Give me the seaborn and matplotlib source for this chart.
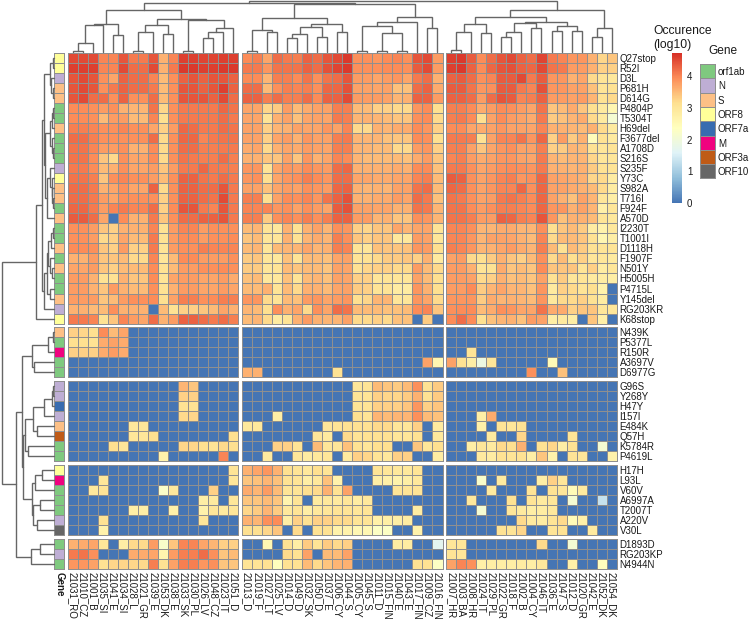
import numpy as np
import pandas as pd
import matplotlib
matplotlib.use("Agg")
import matplotlib.pyplot as plt
from matplotlib.colors import ListedColormap
import seaborn as sns

samples_left = ["21031_RO", "21010_CZ", "21001_B", "21035_SI", "21041_E", "21034_SI", "21028_L", "21021_GR",
                "21039_E", "21053_DK", "21038_E", "21033_SK", "21030_PL", "21026_LV", "21048_CZ", "21023_IT", "21051_D"]
samples_mid = ["21013_D", "21019_F", "21027_LT", "21025_LV", "21014_D", "21049_D", "21032_SK", "21050_D", "21037_E",
               "21006_CY", "21044_S", "21005_CY", "21045_S", "21011_D", "21015_FIN", "21040_E", "21043_E",
               "21017_FIN", "21009_CZ", "21016_FIN"]
samples_right = ["21007_HR", "21003_BA", "21008_HR", "21024_IT", "21029_PL", "21022_GR", "21018_F", "21002_B",
                 "21004_CY", "21046_IT", "21036_E", "21047_S", "21012_D", "21020_GR", "21042_E", "21052_DK", "21054_DK"]

mutations = ["Q27stop", "R52I", "D3L", "P681H", "D614G", "P4804P", "T5304T", "H69del", "F3677del", "A1708D",
             "S216S", "S235F", "Y73C", "S982A", "T716I", "F924F", "A570D", "I2230T", "T1001I", "D1118H",
             "F1907F", "N501Y", "H5005H", "P4715L", "Y145del", "RG203KR", "K68stop",
             "N439K", "P5377L", "R150R", "A3697V", "D6977G",
             "G96S", "Y268Y", "H47Y", "I157I", "E484K", "Q57H", "K5784R", "P4619L",
             "H17H", "L93L", "V60V", "A6997A", "T2007T", "A220V", "V30L",
             "D1893D", "RG203KP", "N4944N"]
block_sizes = [27, 5, 8, 7, 3]

gene_names = ["orf1ab", "N", "S", "ORF8", "ORF7a", "M", "ORF3a", "ORF10"]
gene_colors = ["#7FC97F", "#BEAED4", "#FDC086", "#FFFF99", "#386CB0", "#F0027F", "#BF5B17", "#666666"]
mutation_genes = ["ORF8", "ORF8", "N", "S", "S", "orf1ab", "orf1ab", "S", "orf1ab", "orf1ab",
                  "orf1ab", "N", "ORF8", "S", "S", "orf1ab", "S", "orf1ab", "orf1ab", "S",
                  "orf1ab", "S", "orf1ab", "orf1ab", "S", "N", "ORF8",
                  "S", "orf1ab", "M", "orf1ab", "orf1ab",
                  "N", "N", "ORF7a", "N", "S", "ORF3a", "orf1ab", "orf1ab",
                  "ORF8", "M", "orf1ab", "orf1ab", "orf1ab", "N", "ORF10",
                  "orf1ab", "N", "orf1ab"]

# log10 occurrence, one inner list per mutation
values_left = [
    [4.5, 4.5, 4.5, 4.0, 4.0, 4.4, 4.1, 4.1, 4.4, 3.6, 4.0, 4.6, 4.6, 4.55, 4.55, 4.6, 4.6],
    [4.6, 4.6, 4.6, 4.0, 4.0, 4.5, 4.2, 4.2, 4.5, 3.6, 4.1, 4.65, 4.65, 4.6, 4.6, 4.65, 4.65],
    [4.4, 4.5, 4.4, 3.9, 3.7, 4.3, 4.2, 4.2, 4.0, 3.5, 3.9, 4.3, 4.4, 4.3, 4.4, 4.4, 4.3],
    [4.4, 4.5, 4.4, 3.9, 4.1, 4.3, 4.2, 4.2, 4.1, 3.5, 3.9, 4.4, 4.4, 4.3, 4.4, 4.6, 4.3],
    [4.4, 4.5, 4.2, 4.2, 3.9, 4.3, 3.9, 3.9, 4.2, 3.5, 3.9, 4.4, 4.4, 4.4, 4.3, 4.5, 4.2],
    [3.95, 3.95, 3.9, 3.8, 3.9, 3.6, 3.55, 3.55, 4.15, 3.25, 3.9, 4.1, 4.1, 4.1, 4.1, 4.25, 4.15],
    [3.95, 3.95, 3.9, 3.5, 3.8, 3.8, 3.5, 3.5, 4.0, 3.15, 3.9, 4.1, 4.1, 4.1, 4.1, 4.2, 4.1],
    [4.05, 4.05, 4.0, 3.9, 3.9, 4.0, 3.9, 3.9, 3.7, 3.3, 3.8, 4.25, 4.2, 4.1, 4.1, 4.2, 4.15],
    [4.2, 4.2, 4.05, 3.9, 3.9, 3.9, 3.9, 3.9, 4.2, 3.2, 3.9, 4.25, 4.25, 4.0, 4.1, 4.15, 4.15],
    [4.15, 4.15, 4.0, 3.8, 3.8, 3.9, 3.6, 3.6, 3.95, 3.2, 3.9, 4.2, 4.2, 4.05, 4.05, 4.1, 4.1],
    [4.15, 4.15, 3.95, 3.4, 3.2, 3.9, 3.7, 3.7, 3.95, 3.2, 3.9, 4.15, 4.1, 4.05, 4.05, 4.2, 4.05],
    [4.1, 4.1, 3.95, 3.5, 3.6, 3.9, 3.7, 3.7, 3.8, 3.4, 3.8, 4.1, 4.1, 4.25, 4.1, 4.1, 4.05],
    [4.15, 4.15, 4.05, 3.4, 3.9, 4.0, 3.9, 3.9, 3.8, 3.5, 3.9, 4.3, 4.3, 4.15, 4.1, 4.2, 4.1],
    [4.2, 4.2, 4.1, 3.6, 3.7, 3.9, 3.7, 3.7, 4.3, 3.2, 3.9, 4.3, 4.3, 4.2, 4.2, 4.4, 4.1],
    [4.2, 4.2, 4.1, 3.8, 3.7, 3.9, 3.9, 3.9, 3.9, 3.3, 3.9, 4.3, 4.3, 4.2, 4.15, 4.5, 4.1],
    [4.25, 4.25, 4.1, 3.8, 4.0, 4.1, 4.0, 4.0, 4.2, 3.3, 3.95, 4.4, 4.4, 4.1, 4.0, 4.4, 4.1],
    [4.35, 4.35, 4.2, 3.7, 0, 3.95, 3.6, 3.6, 4.1, 3.4, 3.9, 4.2, 4.2, 4.3, 4.3, 4.4, 4.1],
    [3.9, 3.9, 3.8, 3.4, 3.3, 3.6, 3.6, 3.6, 4.0, 3.1, 3.8, 4.0, 4.0, 3.8, 3.9, 3.9, 3.9],
    [3.9, 3.9, 3.8, 3.2, 3.3, 3.7, 3.5, 3.5, 4.1, 3.1, 3.8, 3.95, 3.95, 3.8, 3.9, 3.9, 3.95],
    [3.95, 3.95, 3.9, 3.4, 3.3, 3.8, 3.3, 3.3, 4.1, 3.05, 3.8, 3.9, 3.9, 4.05, 4.0, 4.0, 4.0],
    [3.6, 3.6, 3.8, 3.4, 3.4, 3.5, 3.2, 3.2, 4.0, 3.0, 3.5, 3.95, 3.95, 3.8, 3.8, 3.8, 3.9],
    [3.7, 3.7, 3.8, 3.4, 3.3, 3.5, 3.5, 3.5, 3.95, 3.1, 3.5, 3.8, 3.8, 3.9, 3.9, 3.95, 3.9],
    [3.8, 3.8, 3.6, 3.1, 3.1, 3.6, 3.4, 3.4, 3.95, 3.05, 3.7, 3.8, 3.8, 3.7, 3.7, 3.8, 3.65],
    [3.8, 3.8, 3.6, 3.4, 3.8, 3.6, 3.5, 3.5, 3.9, 3.1, 3.6, 3.8, 3.8, 3.7, 3.7, 3.8, 3.7],
    [3.8, 3.8, 3.8, 3.4, 3.5, 3.8, 3.9, 3.9, 3.95, 3.15, 3.75, 4.05, 4.05, 3.9, 3.95, 4.05, 4.05],
    [3.6, 3.6, 3.5, 3.5, 3.9, 3.6, 3.6, 3.6, 0, 3.5, 3.1, 3.3, 3.3, 3.4, 3.5, 3.7, 3.6],
    [4.1, 4.1, 4.0, 3.1, 3.4, 4.0, 3.8, 3.7, 4.2, 3.6, 3.8, 4.3, 4.3, 4.2, 4.1, 4.2, 4.05],
    [3.3, 3.25, 3.15, 3.95, 3.5, 3.7, 0, 0, 0, 0, 0, 0, 0, 0, 0, 0, 0],
    [3.15, 3.15, 3.1, 3.65, 3.75, 3.65, 0, 0, 0, 0, 0, 0, 0, 0, 0, 0, 0],
    [3.3, 3.3, 3.3, 3.65, 3.8, 3.65, 0, 0, 0, 0, 0, 0, 0, 0, 0, 0, 0],
    [0, 0, 0, 0, 0, 0, 0, 0, 0, 0, 0, 0, 0, 0, 0, 0, 0],
    [0, 0, 0, 0, 0, 0, 0, 0, 0, 0, 0, 0, 0, 0, 0, 0, 0],
    [0, 0, 0, 0, 0, 0, 0, 0, 0, 0, 0, 3.55, 3.4, 0, 0, 0, 0],
    [0, 0, 0, 0, 0, 0, 0, 0, 0, 0, 0, 3.3, 3.3, 0, 0, 0, 0],
    [0, 0, 0, 0, 0, 0, 0, 0, 0, 0, 0, 3.1, 3.1, 0, 0, 0, 0],
    [0, 0, 0, 0, 0, 0, 0, 0, 0, 0, 0, 3.2, 3.25, 0, 0, 0, 0],
    [0, 0, 0, 0, 0, 0, 2.95, 3.0, 0, 0, 0, 0, 0, 0, 0, 0, 0],
    [0, 0, 0, 0, 0, 0, 3.0, 3.0, 3.15, 0, 0, 0, 0, 0, 0, 0, 3.15],
    [0, 0, 0, 0, 3.15, 3.0, 0, 0, 0, 0, 0, 3.25, 3.25, 3.15, 3.05, 3.2, 3.15],
    [0, 0, 0, 0, 0, 0, 0, 0, 0, 2.7, 0, 0, 0, 0, 0, 4.0, 0],
    [0, 0, 0, 0, 0, 0, 0, 0, 0, 0, 0, 0, 0, 0, 0, 0, 3.05],
    [0, 0, 0, 3.0, 0, 0, 0, 0, 0, 0, 0, 0, 0, 0, 0, 0, 3.0],
    [0, 0, 2.95, 3.05, 0, 0, 0, 0, 0, 2.25, 2.95, 0, 0, 0, 3.3, 0, 0],
    [0, 0, 0, 0, 0, 0, 0, 0, 0, 0, 0, 0, 0, 2.8, 2.9, 0, 3.0],
    [0, 0, 0, 0, 0, 0, 2.8, 2.8, 0, 0, 2.75, 0, 0, 2.7, 3.0, 2.9, 3.0],
    [0, 0, 0, 3.1, 0, 0, 0, 0, 0, 0, 0, 0, 0, 3.0, 0, 0, 0],
    [0, 0, 0, 2.7, 0, 0, 0, 0, 0, 0, 0, 0, 0, 0, 0, 0, 0],
    [3.6, 3.65, 3.7, 3.0, 0, 2.8, 3.2, 3.2, 3.8, 2.2, 3.4, 4.0, 4.0, 3.7, 3.55, 3.3, 3.3],
    [4.1, 4.15, 3.9, 0, 0, 0, 3.65, 3.65, 3.7, 2.65, 3.8, 4.05, 4.05, 4.2, 3.9, 3.4, 3.5],
    [3.85, 3.85, 3.75, 3.1, 3.25, 3.25, 3.25, 3.2, 4.05, 3.1, 3.75, 4.05, 4.05, 3.85, 3.9, 3.4, 3.4],
]

values_mid = [
    [3.95, 4.05, 3.7, 4.2, 4.1, 4.05, 4.3, 4.2, 4.4, 4.5, 4.65, 3.9, 3.9, 3.85, 3.95, 4.0, 3.9, 4.4, 4.5, 3.8],
    [4.1, 4.1, 3.85, 4.15, 4.15, 4.15, 4.3, 4.2, 4.45, 4.55, 4.65, 3.9, 3.9, 3.9, 3.95, 3.95, 3.9, 4.35, 4.5, 3.8],
    [3.95, 3.95, 3.55, 4.05, 4.05, 3.95, 4.15, 3.9, 4.15, 4.2, 4.4, 3.8, 3.8, 3.7, 3.8, 3.85, 3.7, 4.1, 4.2, 3.6],
    [4.2, 4.2, 3.5, 3.9, 4.05, 4.0, 4.05, 3.9, 4.25, 4.25, 4.45, 3.75, 3.75, 3.7, 3.75, 3.45, 3.45, 4.2, 4.3, 3.65],
    [4.3, 4.3, 4.05, 4.2, 4.05, 4.05, 4.2, 3.95, 4.3, 4.3, 4.5, 3.8, 3.8, 3.8, 3.75, 3.55, 3.6, 4.3, 4.3, 3.8],
    [3.7, 3.7, 3.25, 3.35, 3.8, 3.5, 3.65, 3.75, 3.75, 4.05, 4.05, 3.5, 3.5, 3.3, 3.3, 3.2, 3.2, 3.85, 3.95, 3.15],
    [3.7, 3.7, 3.05, 3.6, 3.75, 3.45, 3.7, 3.75, 3.7, 4.1, 4.05, 3.55, 3.6, 3.55, 3.5, 3.4, 3.4, 3.9, 3.95, 3.2],
    [3.75, 3.75, 3.3, 3.55, 3.6, 3.75, 3.7, 3.7, 3.85, 3.75, 4.0, 3.2, 3.2, 3.6, 3.55, 3.65, 3.65, 3.95, 3.85, 3.3],
    [3.75, 3.75, 3.3, 3.7, 3.8, 3.6, 3.85, 3.75, 3.75, 4.05, 4.1, 3.55, 3.55, 3.55, 3.45, 3.4, 3.4, 3.95, 3.9, 3.15],
    [3.65, 3.7, 3.2, 3.6, 3.7, 3.65, 3.8, 3.75, 3.7, 4.05, 4.05, 3.55, 3.55, 3.5, 3.5, 3.2, 3.2, 3.8, 3.85, 3.3],
    [3.6, 3.6, 3.4, 3.4, 3.75, 3.4, 3.85, 3.6, 3.7, 4.0, 3.95, 3.55, 3.5, 3.5, 3.5, 3.5, 3.45, 3.65, 3.8, 3.4],
    [3.85, 3.85, 3.05, 3.7, 3.85, 3.8, 3.95, 3.85, 3.8, 4.2, 4.25, 3.6, 3.6, 3.6, 3.6, 3.65, 3.6, 3.95, 3.95, 3.45],
    [3.85, 3.9, 3.15, 3.7, 3.85, 3.9, 4.05, 3.95, 3.85, 4.2, 4.2, 3.7, 3.7, 3.65, 3.65, 3.7, 3.7, 4.0, 4.05, 3.5],
    [3.75, 3.75, 3.45, 3.7, 3.8, 3.75, 3.9, 3.85, 3.8, 4.25, 4.3, 3.6, 3.55, 3.6, 3.55, 3.75, 3.75, 4.15, 4.2, 3.5],
    [4.05, 4.05, 3.15, 3.75, 3.95, 3.9, 4.0, 3.85, 4.15, 4.3, 4.45, 3.6, 3.6, 3.65, 3.65, 3.8, 3.7, 4.2, 4.1, 3.45],
    [4.0, 4.0, 4.0, 3.85, 3.9, 3.75, 3.9, 3.8, 3.7, 4.35, 4.45, 3.75, 3.75, 3.7, 3.7, 3.6, 3.6, 4.15, 4.1, 3.55],
    [4.05, 4.05, 3.35, 3.9, 4.0, 3.9, 4.05, 3.9, 4.05, 4.3, 4.3, 3.8, 3.8, 3.55, 3.6, 3.4, 3.4, 3.9, 3.85, 3.55],
    [3.5, 3.55, 3.05, 2.95, 3.6, 3.1, 3.6, 3.75, 3.55, 3.9, 3.85, 3.3, 3.25, 3.4, 3.4, 3.7, 3.55, 3.7, 3.7, 3.05],
    [3.4, 3.5, 3.0, 3.0, 3.6, 3.1, 3.55, 3.65, 3.55, 4.05, 3.9, 3.4, 3.3, 3.4, 3.4, 2.95, 2.95, 3.8, 3.75, 3.0],
    [3.5, 3.55, 3.0, 3.5, 3.55, 3.55, 3.7, 3.55, 3.6, 4.05, 4.0, 3.05, 3.0, 3.45, 3.4, 3.4, 3.45, 3.85, 3.8, 3.15],
    [3.35, 3.4, 3.0, 2.95, 3.45, 3.05, 3.5, 3.5, 3.45, 3.7, 3.75, 3.05, 3.1, 3.2, 3.35, 3.35, 3.4, 3.3, 3.6, 2.9],
    [3.35, 3.35, 3.0, 3.05, 3.5, 3.4, 3.5, 3.5, 3.4, 3.75, 3.7, 3.1, 3.25, 3.3, 3.3, 3.2, 3.2, 3.8, 3.5, 3.2],
    [3.45, 3.5, 2.95, 2.95, 3.45, 3.05, 3.5, 3.55, 3.45, 3.75, 3.7, 3.3, 3.3, 3.0, 3.05, 3.0, 3.0, 3.75, 3.5, 3.15],
    [3.5, 3.5, 3.6, 3.05, 3.5, 3.2, 3.6, 3.6, 3.5, 3.7, 3.75, 3.35, 3.3, 3.05, 3.05, 2.85, 2.85, 3.85, 3.6, 3.15],
    [3.85, 3.85, 3.2, 3.05, 3.5, 3.45, 3.8, 3.85, 3.7, 3.8, 3.85, 3.15, 3.25, 3.55, 3.55, 3.0, 3.0, 3.85, 3.7, 3.2],
    [3.55, 3.5, 3.15, 3.9, 3.6, 3.7, 3.2, 3.9, 3.7, 4.2, 4.15, 3.5, 3.5, 3.5, 3.45, 3.45, 3.5, 3.95, 4.0, 3.4],
    [3.5, 3.55, 3.2, 2.85, 3.05, 3.6, 3.8, 3.6, 3.55, 3.55, 3.75, 3.2, 3.2, 3.3, 3.2, 3.45, 3.45, 0, 3.35, 0],
    [0, 0, 0, 0, 0, 0, 0, 0, 0, 0, 0, 0, 0, 0, 0, 0, 0, 0, 0, 0],
    [0, 0, 0, 0, 0, 0, 0, 0, 0, 0, 0, 0, 0, 0, 0, 0, 0, 0, 0, 0],
    [0, 0, 0, 0, 0, 0, 0, 0, 0, 0, 0, 0, 0, 0, 0, 0, 0, 0, 0, 0],
    [0, 0, 0, 0, 0, 0, 0, 0, 0, 0, 0, 0, 0, 0, 0, 0, 0, 0, 3.75, 2.6],
    [3.6, 3.6, 0, 0, 0, 0, 0, 0, 0, 3.1, 0, 0, 0, 0, 0, 0, 0, 0, 0, 0],
    [0, 0, 0, 0, 0, 0, 0, 0, 0, 0, 0, 3.0, 3.05, 3.5, 3.4, 3.35, 3.5, 3.9, 3.1, 3.35],
    [0, 0, 0, 0, 0, 0, 0, 0, 0, 0, 0, 3.05, 3.05, 3.3, 3.25, 3.25, 3.35, 3.6, 3.1, 3.35],
    [0, 0, 0, 0, 0, 0, 0, 0, 0, 0, 0, 3.05, 3.05, 3.3, 3.3, 3.3, 3.4, 3.85, 3.3, 3.4],
    [0, 0, 0, 2.8, 0, 0, 0, 0, 0, 0, 0, 3.15, 3.05, 3.55, 3.5, 3.55, 3.55, 3.9, 3.5, 3.45],
    [2.95, 2.95, 0, 0, 0, 0, 0, 0, 3.0, 3.05, 3.1, 3.1, 3.1, 3.2, 3.2, 3.0, 3.0, 3.3, 0, 2.9],
    [0, 0, 0, 0, 0, 0, 0, 3.0, 2.9, 0, 3.2, 3.05, 3.1, 3.1, 3.1, 3.0, 3.0, 3.1, 0, 2.95],
    [0, 0, 0, 3.3, 3.3, 3.05, 0, 3.5, 3.0, 3.0, 3.45, 3.1, 3.0, 3.15, 3.15, 0, 0, 3.4, 3.0, 3.15],
    [0, 0, 2.9, 0, 0, 3.0, 2.85, 2.95, 3.0, 0, 2.9, 3.3, 3.25, 3.05, 2.95, 3.3, 3.3, 0, 0, 2.85],
    [3.6, 3.7, 3.85, 3.6, 3.15, 3.05, 2.95, 3.15, 3.05, 0, 0, 0, 0, 3.05, 3.0, 2.95, 2.95, 3.05, 0, 0],
    [3.4, 3.45, 3.55, 3.45, 3.1, 3.05, 2.8, 2.95, 3.45, 2.7, 0, 0, 0, 2.8, 2.75, 2.7, 2.8, 2.95, 0, 0],
    [3.65, 3.55, 3.8, 3.5, 3.05, 3.05, 3.15, 3.2, 3.6, 3.1, 3.75, 0, 0, 0, 0, 3.05, 3.05, 3.05, 0, 0],
    [3.4, 3.4, 3.5, 3.4, 2.65, 3.05, 0, 2.9, 2.95, 2.9, 3.0, 2.85, 2.95, 0, 0, 0, 0, 0, 0, 0],
    [3.25, 3.35, 3.55, 3.35, 2.95, 3.05, 2.8, 2.95, 3.0, 3.05, 3.05, 3.0, 3.05, 0, 0, 0, 0, 2.85, 0, 0],
    [3.6, 3.55, 3.9, 3.95, 2.8, 3.3, 3.1, 3.3, 3.3, 3.2, 3.2, 3.05, 3.05, 2.75, 2.8, 2.8, 2.85, 0, 0, 0],
    [3.15, 3.15, 3.25, 3.4, 0, 3.2, 0, 3.1, 3.1, 2.7, 2.7, 2.55, 2.55, 2.3, 2.3, 0, 0, 2.7, 0, 0],
    [0, 0, 2.55, 0, 3.1, 2.8, 3.35, 3.05, 3.35, 3.2, 3.3, 0, 0, 0, 0, 2.85, 2.85, 0, 0, 1.7],
    [0, 0, 0, 0, 3.2, 3.1, 3.75, 0, 3.5, 3.5, 3.75, 0, 0, 0, 0, 0, 0, 0, 0, 0],
    [3.05, 3.05, 3.1, 2.4, 3.1, 3.1, 3.5, 3.2, 3.4, 3.55, 3.6, 0, 0, 0, 0, 0, 0, 3.1, 3.1, 2.3],
]

values_right = [
    [4.6, 4.65, 4.35, 3.95, 4.2, 4.4, 4.5, 4.3, 4.2, 4.55, 4.1, 4.0, 3.85, 3.85, 3.6, 3.25, 3.4],
    [4.6, 4.65, 4.3, 3.95, 4.25, 4.4, 4.45, 4.3, 4.25, 4.5, 4.15, 4.1, 3.8, 3.8, 3.6, 3.3, 3.3],
    [4.3, 4.35, 4.2, 3.9, 4.0, 4.35, 4.35, 4.5, 4.1, 4.35, 3.85, 3.85, 3.6, 3.7, 3.2, 3.05, 2.95],
    [4.35, 4.35, 4.15, 3.85, 3.9, 4.35, 4.35, 4.1, 4.0, 4.45, 3.85, 3.85, 3.75, 3.75, 3.45, 3.05, 3.1],
    [4.3, 4.3, 4.2, 3.8, 4.2, 4.4, 4.35, 4.0, 4.05, 4.3, 3.8, 3.8, 3.75, 3.8, 3.55, 3.1, 3.2],
    [4.05, 4.05, 3.95, 3.65, 3.8, 3.95, 3.9, 3.8, 3.7, 4.15, 3.4, 3.5, 3.65, 3.4, 3.15, 2.9, 2.6],
    [4.05, 4.1, 3.95, 3.15, 3.75, 3.95, 3.8, 3.75, 3.65, 4.1, 3.35, 3.45, 3.55, 3.65, 3.2, 2.9, 2.1],
    [3.95, 3.95, 3.7, 3.65, 3.75, 3.85, 3.75, 3.75, 3.7, 4.0, 3.6, 3.6, 3.55, 3.5, 3.6, 3.2, 2.9],
    [4.1, 4.1, 4.05, 3.1, 3.75, 4.0, 4.0, 4.15, 3.85, 4.25, 3.3, 3.8, 3.35, 3.6, 2.45, 3.1, 2.9],
    [4.05, 4.05, 3.75, 3.4, 3.7, 3.85, 3.9, 3.75, 3.75, 4.05, 3.3, 3.35, 3.55, 3.5, 3.1, 3.0, 3.05],
    [4.0, 4.05, 3.8, 3.65, 3.75, 3.85, 3.85, 3.75, 3.7, 4.1, 3.55, 3.5, 3.55, 3.55, 3.25, 3.0, 3.0],
    [4.1, 4.1, 3.9, 3.7, 3.8, 3.9, 3.95, 3.9, 3.85, 4.1, 3.6, 3.6, 3.55, 3.6, 3.35, 3.1, 3.05],
    [4.35, 4.3, 3.9, 3.75, 3.85, 4.0, 4.05, 3.85, 3.9, 4.25, 3.75, 3.7, 3.65, 3.6, 3.25, 3.2, 2.85],
    [4.25, 4.2, 3.9, 3.75, 3.85, 4.0, 4.0, 4.25, 3.9, 4.25, 3.75, 3.75, 3.65, 3.6, 3.5, 3.2, 2.85],
    [4.15, 4.1, 3.9, 3.75, 3.8, 4.1, 4.15, 4.05, 3.95, 4.25, 3.75, 3.6, 3.45, 3.75, 3.55, 3.0, 2.8],
    [4.15, 4.15, 3.95, 3.8, 3.9, 4.05, 4.05, 4.0, 3.95, 4.25, 3.85, 3.85, 3.6, 3.75, 3.55, 2.75, 3.0],
    [4.15, 4.15, 4.05, 3.8, 3.8, 4.3, 4.25, 4.05, 4.0, 4.4, 3.85, 3.45, 3.6, 3.6, 3.5, 3.05, 2.95],
    [4.0, 4.0, 3.9, 3.55, 3.55, 3.65, 3.65, 3.55, 3.55, 3.9, 3.15, 3.4, 3.5, 3.35, 2.85, 2.7, 2.95],
    [4.0, 4.0, 3.85, 3.55, 3.75, 3.75, 3.7, 3.6, 3.5, 4.0, 3.2, 3.5, 3.5, 3.4, 3.1, 2.6, 2.8],
    [4.05, 4.0, 3.85, 3.55, 3.6, 3.7, 3.8, 3.65, 3.55, 4.05, 3.5, 3.1, 3.5, 3.35, 3.1, 3.05, 3.05],
    [3.75, 3.8, 3.2, 3.15, 3.35, 3.6, 3.4, 3.3, 3.5, 3.9, 3.2, 3.5, 3.15, 3.3, 3.0, 3.0, 2.9],
    [3.8, 3.8, 3.6, 3.05, 3.1, 3.65, 3.4, 3.5, 3.4, 3.95, 3.4, 3.4, 3.4, 3.05, 3.3, 2.85, 3.0],
    [3.8, 3.8, 3.75, 3.2, 3.3, 3.6, 3.45, 3.5, 3.4, 3.75, 3.1, 3.35, 3.0, 3.05, 2.9, 2.85, 2.8],
    [3.8, 3.8, 3.95, 3.35, 3.55, 3.7, 3.55, 3.55, 3.45, 3.85, 2.9, 3.3, 3.2, 3.05, 3.15, 2.7, 0],
    [3.85, 3.85, 3.85, 3.35, 3.65, 3.55, 3.6, 3.55, 3.5, 3.85, 2.95, 3.2, 3.2, 3.3, 3.1, 2.85, 0],
    [3.9, 3.95, 3.95, 3.5, 3.65, 3.9, 3.85, 3.7, 3.7, 4.15, 3.65, 3.65, 3.3, 3.4, 3.4, 3.0, 3.0],
    [3.95, 4.2, 3.95, 3.15, 3.45, 3.55, 3.6, 3.45, 3.8, 3.75, 2.8, 2.9, 2.8, 0, 3.4, 2.75, 0],
    [0, 0, 0, 0, 0, 0, 0, 0, 0, 0, 0, 0, 0, 0, 0, 0, 0],
    [0, 0, 0, 0, 0, 0, 0, 0, 0, 0, 0, 0, 0, 0, 0, 0, 0],
    [0, 0, 3.05, 0, 0, 0, 0, 0, 0, 0, 0, 0, 0, 0, 0, 0, 0],
    [3.75, 3.1, 2.8, 1.9, 3.0, 0, 0, 0, 0, 0, 2.5, 0, 0, 0, 0, 0, 0],
    [0, 0, 0, 0, 0, 0, 0, 0, 3.9, 0, 0, 3.45, 0, 0, 0, 0, 0],
    [0, 0, 0, 0, 0, 0, 0, 0, 0, 0, 0, 0, 0, 0, 0, 0, 0],
    [0, 0, 0, 0, 0, 0, 0, 0, 0, 0, 0, 0, 0, 0, 0, 0, 0],
    [0, 0, 0, 0, 0, 0, 0, 0, 0, 0, 0, 0, 0, 0, 0, 0, 0],
    [0, 0, 0, 2.8, 3.65, 0, 0, 0, 0, 0, 0, 0, 0, 0, 0, 0, 0],
    [0, 0, 0, 2.75, 0, 3.05, 3.0, 3.1, 0, 0, 0, 0, 0, 0, 0, 0, 0],
    [0, 0, 0, 0, 2.9, 0, 0, 3.25, 0, 0, 0, 0, 3.05, 0, 0, 0, 0],
    [0, 0, 2.8, 3.0, 2.9, 3.2, 3.15, 3.6, 0, 3.1, 3.25, 2.8, 3.1, 0, 0, 2.1, 0],
    [0, 0, 0, 2.9, 2.85, 3.1, 3.05, 3.1, 2.8, 3.4, 2.7, 0, 3.05, 3.0, 0, 0, 2.7],
    [0, 0, 0, 0, 0, 0, 0, 0, 0, 0, 0, 0, 0, 0, 0, 0, 0],
    [0, 0, 0, 2.2, 0, 2.9, 0, 0, 0, 2.8, 3.3, 3.0, 0, 0, 0, 0, 0],
    [0, 0, 0, 0, 2.9, 0, 0, 0, 3.05, 0, 3.1, 3.0, 2.5, 2.9, 0, 0, 0],
    [0, 0, 2.95, 0, 0, 0, 3.1, 0, 3.05, 2.9, 3.0, 0, 2.1, 0, 0, 1.3, 0],
    [0, 0, 0, 2.1, 0, 0, 3.0, 2.9, 2.8, 2.85, 2.95, 0, 0, 0, 0, 0, 0],
    [0, 0, 0, 0, 0, 0, 0, 3.2, 2.9, 2.85, 3.05, 3.2, 2.5, 2.75, 0, 0, 0],
    [0, 0, 0, 0, 0, 3.1, 3.05, 3.25, 0, 0, 3.05, 3.1, 0, 0, 2.9, 0, 0],
    [3.0, 3.0, 0, 0, 0, 0, 0, 0, 0, 3.2, 0, 0, 2.1, 0, 0, 0, 0],
    [3.05, 3.0, 0, 0, 0, 0, 0, 0, 0, 0, 0, 0, 0, 0, 0, 0, 0],
    [3.75, 4.0, 3.9, 2.75, 2.8, 2.8, 2.8, 2.85, 2.8, 2.95, 0, 0, 2.75, 0, 0, 2.4, 0],
]

# dendrograms: (merge height, child, child), ints are leaf indexes
col_tree_left = (42.5,
    (28.5, (27, (9, (1, 0, 1), 2), 3), (17, 4, 5)),
    (33.5, (27, (20, (1, 6, 7), 8), (18, 9, 10)),
           (32, (1, 11, 12), (24, (20, (14.5, 13, 14), 15), 16))))
col_tree_mid = (48,
    (34, (22, (1, 17, 18), (20, 19, 20)),
         (28, (25, (18, (14.3, 21, 22), 23), (15.3, 24, 25)), (20, 26, 27))),
    (35.3, (30.3, (26.3, (1, 28, 29), (19, (1, 30, 31), (1, 32, 33))), 34), (24, 35, 36)))
col_tree_right = (42,
    (34.7, (28, (20, (2, 37, 38), 39), (19, 40, 41)),
           (30.3, (29.3, (20, (15, 42, 43), 44), (24, 45, 46)),
                  (26, (21, 47, 48), (21, 49, 50)))),
    (23.7, (15.3, 51, 52), 53))
col_tree = (51, (49.3, col_tree_left, col_tree_mid), col_tree_right)

row_tree_top = (17.5,
    (11.8,
     (9.5, (3.5, (0.8, 0, 1), (2.5, 2, (1, 3, 4))),
           (8.5, (3.5, (1.5, (0.8, 5, 6), 7), (2, 8, (1, 9, 10))),
                 (6.8, (4, 11, (2, 12, (1.5, 13, (1, 14, 15)))), 16))),
     (9.2, (6.5, (5.8, (2.5, (1, 17, 18), 19), (3.5, 20, (2, 21, 22))), (4, 23, 24)), 25)),
    26)
row_tree_low = (37.8,
    (31.8, (21.2, (5.2, (0.8, 27, 28), 29), (19.8, 30, 31)),
           (30.2, (28.5, (20.8, (9.2, (1.8, (0.8, 32, 33), 34), 35), (16.8, 36, 37)), (25.2, 38, 39)),
                  (21.2, (18.5, (11.8, 40, 41), 42), (20.2, (13.5, 43, 44), (16.8, 45, 46))))),
    (22.8, (13.5, 47, 48), 49))
row_tree = (51.8, row_tree_top, row_tree_low)

sns.set_theme(style="white")
plt.rcParams["font.family"] = ["Liberation Sans", "DejaVu Sans"]
plt.rcParams["text.color"] = "#1a1a1a"

W, H = 750, 622
fig = plt.figure(figsize=(W / 100, H / 100), dpi=100)

CELL_W = 10.03
CELL_H = 10.03
GAP = 3.7
X0, Y0 = 67.7, 52.8
GRID = "#8f8f8f"
LW = 0.7


def px_axes(x, y, w, h):
    return fig.add_axes([x / W, 1 - (y + h) / H, w / W, h / H])


heat_cmap = sns.blend_palette(["#4575B4", "#91BFDB", "#E0F3F8", "#FFFFBF", "#FEE090", "#FC8D59", "#D73027"],
                              n_colors=100, as_cmap=True)
gene_cmap = ListedColormap(gene_colors)

col_groups = [(samples_left, values_left), (samples_mid, values_mid), (samples_right, values_right)]

# x/y of each leaf, filled while the panels are laid out
col_pos, row_pos = [], []
y = Y0
row_start = 0
block_tops = []
for size in block_sizes:
    block_tops.append((y, row_start, size))
    row_pos += [y + CELL_H * (i + 0.5) for i in range(size)]
    y += size * CELL_H + GAP
    row_start += size

x_starts = []
x = X0
for names, _ in col_groups:
    x_starts.append(x)
    col_pos += [x + CELL_W * (i + 0.5) for i in range(len(names))]
    x += len(names) * CELL_W + GAP

gene_codes = np.array([gene_names.index(g) for g in mutation_genes])

for b, (top, start, size) in enumerate(block_tops):
    idx = mutations[start:start + size]
    is_bottom = b == len(block_tops) - 1
    for g, (names, values) in enumerate(col_groups):
        is_right = g == len(col_groups) - 1
        df = pd.DataFrame(values[start:start + size], index=idx, columns=names)
        ax = px_axes(x_starts[g], top, len(names) * CELL_W, size * CELL_H)
        sns.heatmap(df, ax=ax, cmap=heat_cmap, vmin=0, vmax=4.73, cbar=False, linewidths=LW, linecolor=GRID,
                    xticklabels=is_bottom, yticklabels=is_right)
        ax.collections[0].set_clip_on(False)
        ax.set_xlabel("")
        ax.set_ylabel("")
        if is_right:
            ax.yaxis.tick_right()
            ax.tick_params(axis="y", rotation=0, length=0, pad=2, labelsize=7, labelcolor="#1a1a1a")
        if is_bottom:
            ax.tick_params(axis="x", rotation=270, length=0, pad=2, labelsize=7, labelcolor="#1a1a1a")

    # gene annotation strip
    ax = px_axes(54.3, top, 10, size * CELL_H)
    sns.heatmap(gene_codes[start:start + size].reshape(-1, 1), ax=ax, cmap=gene_cmap, vmin=-0.5, vmax=7.5, cbar=False,
                linewidths=LW, linecolor=GRID, xticklabels=["Gene"] if is_bottom else False, yticklabels=False)
    ax.collections[0].set_clip_on(False)
    if is_bottom:
        ax.tick_params(axis="x", rotation=270, length=0, pad=2, labelsize=7, labelcolor="#1a1a1a")
        for lab in ax.get_xticklabels():
            lab.set_fontweight("bold")

# colorbar
cax = px_axes(672, 53, 9.5, 150)
cbar = fig.colorbar(plt.cm.ScalarMappable(norm=plt.Normalize(0, 4.73), cmap=heat_cmap), cax=cax)
cbar.set_ticks([0, 1, 2, 3, 4])
cbar.ax.tick_params(length=0, pad=4, labelsize=7, labelcolor="#1a1a1a")
cbar.outline.set_visible(False)

# gene legend swatches
lax = px_axes(700.3, 64, 14.7, 114.4)
sns.heatmap(np.arange(len(gene_names)).reshape(-1, 1), ax=lax, cmap=gene_cmap, vmin=-0.5, vmax=7.5, cbar=False,
            linewidths=LW, linecolor=GRID, xticklabels=False, yticklabels=gene_names)
lax.collections[0].set_clip_on(False)
lax.yaxis.tick_right()
lax.tick_params(axis="y", rotation=0, length=0, pad=2, labelsize=7, labelcolor="#1a1a1a")

fig.text(653 / W, 1 - 31 / H, "Occurence", fontsize=8.7, va="center", ha="left")
fig.text(653 / W, 1 - 45 / H, "(log10)", fontsize=8.7, va="center", ha="left")
fig.text(708 / W, 1 - 50.5 / H, "Gene", fontsize=8.6, va="center", ha="left")

# dendrograms on an overlay in pixel units
over = fig.add_axes([0, 0, 1, 1], facecolor="none")
over.set_xlim(0, W)
over.set_ylim(H, 0)
over.axis("off")
TREE = "#666666"


def draw_tree(node, leaf_pos, base, sign, horizontal):
    # returns (leaf position, height) of the node after drawing its bracket
    if not isinstance(node, tuple):
        return leaf_pos[node], 0
    h, a, b = node
    pa, ha = draw_tree(a, leaf_pos, base, sign, horizontal)
    pb, hb = draw_tree(b, leaf_pos, base, sign, horizontal)
    hs = [base - sign * ha, base - sign * h, base - sign * h, base - sign * hb]
    ps = [pa, pa, pb, pb]
    if horizontal:
        over.plot(ps, hs, color=TREE, lw=1.0, solid_joinstyle="miter")
    else:
        over.plot(hs, ps, color=TREE, lw=1.0, solid_joinstyle="miter")
    return (pa + pb) / 2, h


draw_tree(col_tree, col_pos, 52, 1, True)
draw_tree(row_tree, row_pos, 53.5, 1, False)

fig.savefig("out.png", dpi=100)
